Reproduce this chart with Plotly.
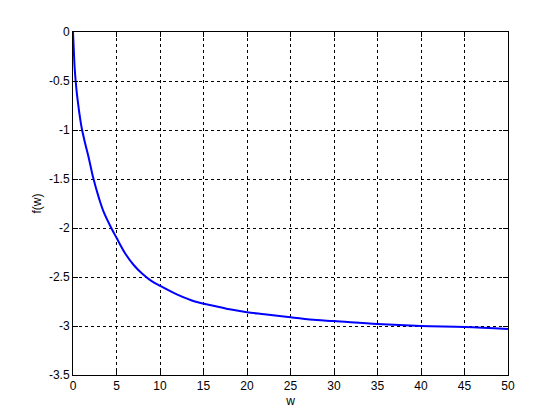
import plotly.graph_objects as go

w = [0, 0.1, 0.2, 0.4, 0.6, 0.8, 1.0, 1.35, 1.85, 2.3, 3.0, 3.5, 4.4, 5, 6, 7, 8, 9, 10,
     12, 14, 16, 18, 20, 22, 25, 28, 30, 35, 40, 45, 50]
f = [0, -0.2, -0.38, -0.59, -0.74, -0.87, -0.98, -1.12, -1.3, -1.48, -1.7, -1.83, -2.0,
     -2.1, -2.26, -2.38, -2.47, -2.54, -2.59, -2.68, -2.75, -2.79, -2.83, -2.86, -2.88,
     -2.91, -2.94, -2.95, -2.98, -3.0, -3.01, -3.03]

x_ticks = [0, 5, 10, 15, 20, 25, 30, 35, 40, 45, 50]
y_ticks = [0, -0.5, -1, -1.5, -2, -2.5, -3, -3.5]
y_ticktext = ["0", "-0.5", "-1", "-1.5", "-2", "-2.5", "-3", "-3.5"]

FONT = "Liberation Sans, Arial, sans-serif"

fig = go.Figure()
fig.add_trace(go.Scatter(x=w, y=f, mode="lines", line=dict(color="#0000ff", width=2),
                         line_shape="spline", showlegend=False))

axis_common = dict(showline=True, linecolor="black", linewidth=1, mirror="ticks",
                   ticks="inside", ticklen=5, tickcolor="black",
                   showgrid=True, gridcolor="black", griddash="3px,3px", gridwidth=1,
                   zeroline=False, tickfont=dict(family=FONT, size=12, color="black"))

fig.update_xaxes(range=[0, 50], tickvals=x_ticks, ticktext=[str(t) for t in x_ticks],
                 title=dict(text="w", standoff=4, font=dict(family=FONT, size=12, color="black")),
                 **axis_common)
fig.update_yaxes(range=[-3.5, 0], tickvals=y_ticks, ticktext=y_ticktext,
                 title=dict(text="f(w)", standoff=4, font=dict(family=FONT, size=12, color="black")),
                 **axis_common)

fig.update_layout(width=552, height=412, margin=dict(l=65, r=52, t=24, b=45),
                  paper_bgcolor="white", plot_bgcolor="white")

fig.write_html("out.html")
